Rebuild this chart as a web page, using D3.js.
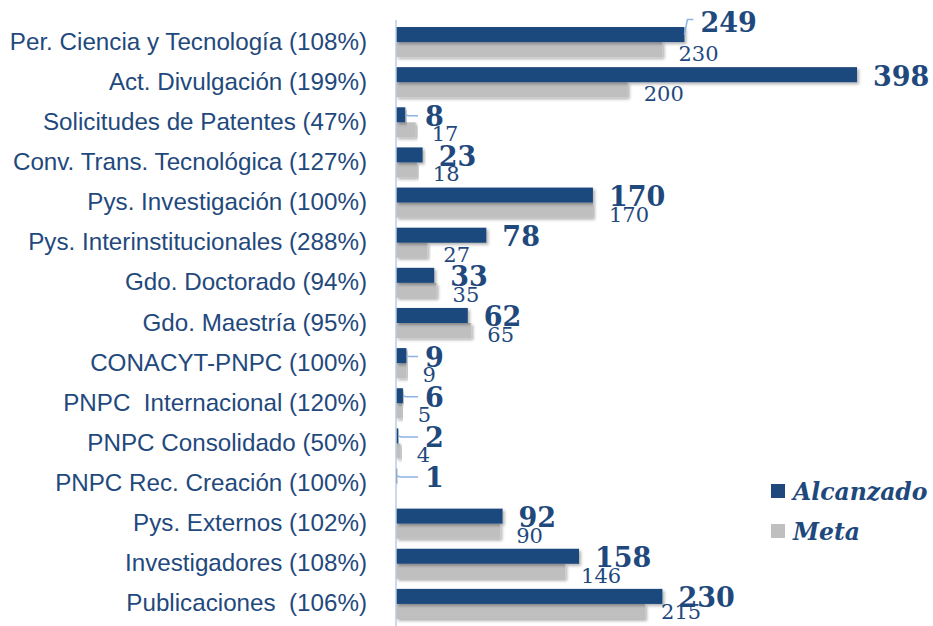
<!DOCTYPE html>
<html><head><meta charset="utf-8">
<script src="https://cdn.jsdelivr.net/npm/d3@7"></script>
<style>body{margin:0;background:#fff;} svg{display:block;}</style>
</head><body>
<svg id="chart" width="933" height="626"></svg>
<script>
const categories = ["Per. Ciencia y Tecnología (108%)","Act. Divulgación (199%)","Solicitudes de Patentes (47%)","Conv. Trans. Tecnológica (127%)","Pys. Investigación (100%)","Pys. Interinstitucionales (288%)","Gdo. Doctorado (94%)","Gdo. Maestría (95%)","CONACYT-PNPC (100%)","PNPC  Internacional (120%)","PNPC Consolidado (50%)","PNPC Rec. Creación (100%)","Pys. Externos (102%)","Investigadores (108%)","Publicaciones  (106%)"];
const alcanzado = [249,398,8,23,170,78,33,62,9,6,2,1,92,158,230];
const meta = [230,200,17,18,170,27,35,65,9,5,4,null,90,146,215];
const seriesNames = ["Alcanzado","Meta"];

const DARK="#1F497D", GRAY="#BFBFBF", LEAD="#8DB3E2", TXT="#1F497D";
const svg=d3.select("#chart");
const defs=svg.append("defs");
const f=defs.append("filter").attr("id","sh").attr("x","-5%").attr("y","-30%").attr("width","115%").attr("height","180%");
f.append("feDropShadow").attr("dx",2).attr("dy",2).attr("stdDeviation",1.5).attr("flood-color","#000").attr("flood-opacity",0.3);

const x=d3.scaleLinear().domain([0,398]).range([396,857]);
const y=d3.scaleBand().domain(categories).range([22,624]).paddingInner(0.25).paddingOuter(0.125);
const h=y.bandwidth()/2;

// category labels
const lab=svg.append("g");
lab.selectAll("text").data(categories).join("text")
  .attr("x",367).attr("y",d=>y(d)+y.bandwidth()/2+7.5)
  .attr("text-anchor","end").attr("font-family","'Liberation Sans',Arial,sans-serif")
  .attr("font-size",24.2).attr("fill",TXT).style("white-space","pre").text(d=>d);

// bars
const g=svg.append("g");
g.selectAll("rect.m").data(categories).join("rect").attr("class","m")
  .attr("x",x(0)).attr("y",d=>y(d)+h).attr("height",h)
  .attr("width",(d,i)=>meta[i]==null?0:x(meta[i])-x(0)).attr("fill",GRAY).attr("filter","url(#sh)");
g.selectAll("rect.a").data(categories).join("rect").attr("class","a")
  .attr("x",x(0)).attr("y",d=>y(d)).attr("height",h)
  .attr("width",(d,i)=>x(alcanzado[i])-x(0)).attr("fill",DARK).attr("filter","url(#sh)");

// axis line
svg.append("line").attr("x1",x(0)).attr("x2",x(0)).attr("y1",20).attr("y2",626)
  .attr("stroke","#B9CDE5").attr("stroke-width",1.5);

// labels
const lg=svg.append("g");
categories.forEach((c,i)=>{
  const aEnd=x(alcanzado[i]);
  const aMid=y(c)+h/2;
  let ax=Math.max(aEnd+16,425);
  let ay=aMid+11;
  if(i===0) ay=aMid-3; // lifted label
  if(ax-aEnd>18 || i===0){
    const ly=i===0?ay-12:aMid+1;
    lg.append("path").attr("d",`M${aEnd},${aMid}L${aEnd+3},${ly}L${ax-7},${ly}`)
      .attr("fill","none").attr("stroke",LEAD).attr("stroke-width",1.5);
  }
  lg.append("text").attr("x",ax).attr("y",ay).attr("font-family","'DejaVu Serif',serif")
    .attr("font-weight","bold").attr("font-size",27).attr("fill",TXT).text(alcanzado[i]);
  if(meta[i]!=null){
    const mEnd=x(meta[i]);
    const mMid=y(c)+h*1.5;
    const mx=Math.max(mEnd+16,416);
    const my=Math.min(mMid+11.5,619);
    if(mx-mEnd>20){
      lg.append("path").attr("d",`M${mEnd},${mMid+2}L${mx-5},${mMid+2}`)
        .attr("fill","none").attr("stroke",LEAD).attr("stroke-width",1.5);
    }
    lg.append("text").attr("x",mx).attr("y",my).attr("font-family","'DejaVu Serif',serif")
      .attr("font-size",21).attr("fill",TXT).text(meta[i]);
  }
});

// legend
const leg=svg.append("g");
[DARK,GRAY].forEach((col,i)=>{
  leg.append("rect").attr("x",771).attr("y",484+i*40).attr("width",14).attr("height",14).attr("fill",col);
  leg.append("text").attr("x",793).attr("y",500+i*40).attr("font-family","'DejaVu Serif',serif")
    .attr("font-weight","bold").attr("font-style","italic").attr("font-size",23.5).attr("fill",TXT).text(seriesNames[i]);
});
</script>
</body></html>
